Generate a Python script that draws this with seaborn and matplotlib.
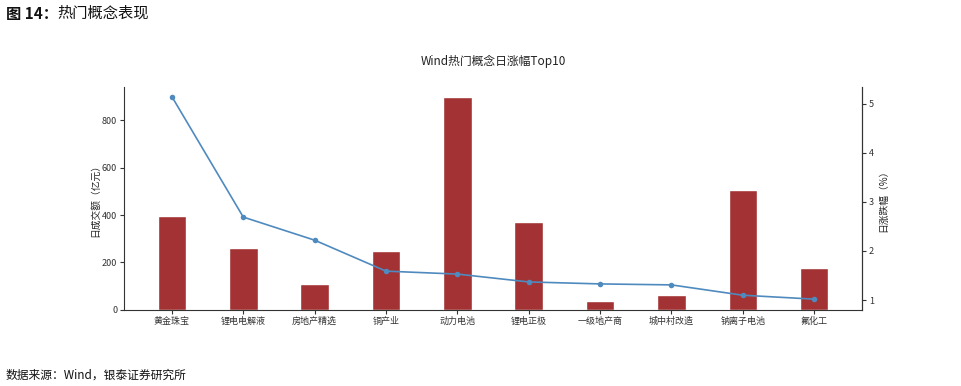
import numpy as np
import pandas as pd
import matplotlib
matplotlib.use('Agg')
import matplotlib.pyplot as plt
import seaborn as sns

# data
concepts = ['黄金珠宝', '锂电电解液', '房地产精选', '铜产业', '动力电池',
            '锂电正极', '一级地产商', '城中村改造', '钠离子电池', '氟化工']
turnover = [396, 261, 109, 248, 897, 370, 38, 63, 505, 177]     # 亿元
pct_change = [5.14, 2.69, 2.22, 1.59, 1.53, 1.37, 1.33, 1.31, 1.10, 1.02]  # %

sns.set_theme(style='white')
plt.rcParams['font.family'] = ['Noto Sans CJK SC', 'DejaVu Sans']
plt.rcParams['axes.unicode_minus'] = False

df = pd.DataFrame({'concept': concepts, 'turnover': turnover, 'pct': pct_change})

fig = plt.figure(figsize=(9.62, 3.86), dpi=100)
ax = fig.add_axes([0.129, 0.197, 0.767, 0.578])

sns.barplot(data=df, x='concept', y='turnover', color='#a23234',
            saturation=1, width=0.4, ax=ax)
ax.set_xlim(-0.67, 9.67)
ax.set_ylim(0, 940)
ax.set_xlabel('')
ax.set_ylabel('日成交额（亿元）', fontsize=7, color='#222222', labelpad=1)
ax.tick_params(axis='both', labelsize=6.5, colors='#333333', length=3,
               width=0.8, pad=2, bottom=True, left=True)
ax.set_yticks([0, 200, 400, 600, 800])
for s in ['left', 'bottom', 'right']:
    ax.spines[s].set_color('#333333')
    ax.spines[s].set_linewidth(0.8)
ax.spines['top'].set_visible(False)
ax.set_title('Wind热门概念日涨幅Top10', fontsize=8.5, pad=16, color='#222222')

ax2 = ax.twinx()
sns.lineplot(x=np.arange(len(concepts)), y=df['pct'], ax=ax2, color='#4f8abf',
             marker='o', markersize=4, markeredgewidth=0, linewidth=1.2)
ax2.set_ylim(0.8, 5.34)
ax2.set_yticks([1, 2, 3, 4, 5])
ax2.set_ylabel('日涨跌幅（%）', fontsize=7, color='#222222', labelpad=3)
ax2.tick_params(axis='y', labelsize=6.5, colors='#333333', length=3,
                width=0.8, pad=2, right=True)
for s in ['left', 'bottom', 'top']:
    ax2.spines[s].set_visible(False)
ax2.spines['right'].set_color('#333333')
ax2.spines['right'].set_linewidth(0.8)

head = fig.text(0.006, 0.965, '图 14：', fontsize=11, fontweight='bold',
                ha='left', va='center', color='#111111')
ax.annotate('热门概念表现', xy=(1, 0.5), xycoords=head, ha='left', va='center',
            fontsize=11, color='#111111', annotation_clip=False)
fig.text(0.006, 0.028, '数据来源：Wind，银泰证券研究所', fontsize=8.5,
         ha='left', va='center', color='#111111')

fig.savefig('out.png', dpi=100)
